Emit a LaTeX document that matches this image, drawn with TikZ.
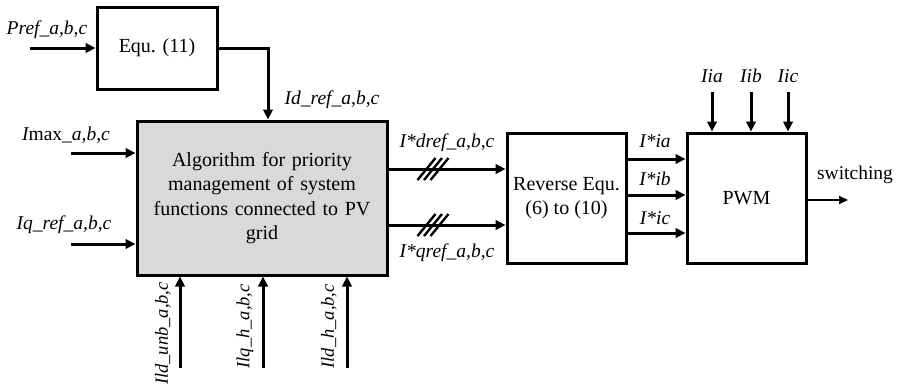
\documentclass[tikz,border=0pt]{standalone}
\usepackage{fontspec}
\setmainfont{Liberation Serif}
\usetikzlibrary{arrows.meta,calc}
\begin{document}
\begin{tikzpicture}[x=1pt,y=-1pt,
  blk/.style={draw,line width=3pt,inner sep=0pt,font=\fontsize{20}{24.5}\selectfont},
  arr/.style={line width=3pt,-{Triangle[length=10pt,width=9.5pt]}},
  lbl/.style={inner sep=0pt,font=\fontsize{19.5}{22}\selectfont\itshape},
  blbl/.style={inner sep=0pt,font=\fontsize{18.5}{22}\selectfont\itshape,rotate=90,anchor=east},
  slash/.style={line width=2.4pt}]
\useasboundingbox (0,0) rectangle (900,389);
% blocks
\node[blk,minimum width=120pt,minimum height=82pt] (equ) at (157,48) {Equ. (11)};
\node[blk,fill=black!15,minimum width=250pt,minimum height=154pt,text width=236pt,align=center] (main) at (262,198)
  {Algorithm for priority\\management of system\\functions connected to PV\\grid};
\node[blk,minimum width=119pt,minimum height=130pt,align=center] (rev) at (566.5,198) {Reverse Equ.\\(6) to (10)};
\node[blk,minimum width=119pt,minimum height=130pt] (pwm) at (746.5,198) {PWM};
% Pref
\coordinate (pin) at (30,48);
\draw[arr] (pin) -- (pin -| equ.west);
\node[lbl] (lpref) at (47,30) {Pref\_a,b,c};
% Equ -> main
\draw[arr] (equ.east |- pin) -| ([xshift=6pt]main.north);
\node[lbl] (lidref) at (332,100) {Id\_ref\_a,b,c};
% Imax, Iq
\coordinate (imax) at (71,153);
\coordinate (iq) at (71,244);
\draw[arr] (imax) -- (imax -| main.west);
\draw[arr] (iq) -- (iq -| main.west);
\node[lbl] (limax) at (66,135) {I\upshape max\itshape\_a,b,c};
\node[lbl] (liq) at (64,225) {Iq\_ref\_a,b,c};
% main -> rev
\coordinate (dout) at (387,169);
\coordinate (qout) at (387,225);
\draw[arr] (dout) -- (dout -| rev.west);
\draw[arr] (qout) -- (qout -| rev.west);
\foreach \dx in {-6.5,0,6.5}{
  \draw[slash] ($(dout)+(46+\dx-9,11)$) -- ($(dout)+(46+\dx+9,-11)$);
  \draw[slash] ($(qout)+(46+\dx-9,11)$) -- ($(qout)+(46+\dx+9,-11)$);
}
\node[lbl] (ldref) at (447,143) {I*dref\_a,b,c};
\node[lbl] (lqref) at (447,253) {I*qref\_a,b,c};
% rev -> pwm
\coordinate (ra) at (626,159);
\coordinate (rb) at (626,195);
\coordinate (rc) at (626,233);
\draw[arr] (ra) -- (ra -| pwm.west);
\draw[arr] (rb) -- (rb -| pwm.west);
\draw[arr] (rc) -- (rc -| pwm.west);
\node[lbl] (lia) at (655,141) {I*ia};
\node[lbl] (lib) at (655,179) {I*ib};
\node[lbl] (lic) at (655,218) {I*ic};
% Iia Iib Iic
\coordinate (ta) at (712,92);
\coordinate (tb) at (751,92);
\coordinate (tc) at (788,92);
\draw[arr] (ta) -- (ta |- pwm.north);
\draw[arr] (tb) -- (tb |- pwm.north);
\draw[arr] (tc) -- (tc |- pwm.north);
\node[lbl] (liia) at (712,76) {Iia};
\node[lbl] (liib) at (751,76) {Iib};
\node[lbl] (liic) at (788,76) {Iic};
% switching
\coordinate (sw) at (848,200);
\draw[line width=2pt,-{Triangle[length=9pt,width=8pt]}] (sw -| pwm.east) -- (sw);
\node[inner sep=0pt,font=\fontsize{19.5}{22}\selectfont] (lsw) at (855,175) {switching};
% bottom inputs
\coordinate (b1) at (180,368);
\coordinate (b2) at (263,368);
\coordinate (b3) at (347,368);
\draw[arr] (b1) -- (b1 |- main.south);
\draw[arr] (b2) -- (b2 |- main.south);
\draw[arr] (b3) -- (b3 |- main.south);
\node[blbl] (lb1) at (163,282) {Ild\_unb\_a,b,c};
\node[blbl] (lb2) at (245,284) {Ilq\_h\_a,b,c};
\node[blbl] (lb3) at (329,284) {Ild\_h\_a,b,c};
\end{tikzpicture}
\end{document}
